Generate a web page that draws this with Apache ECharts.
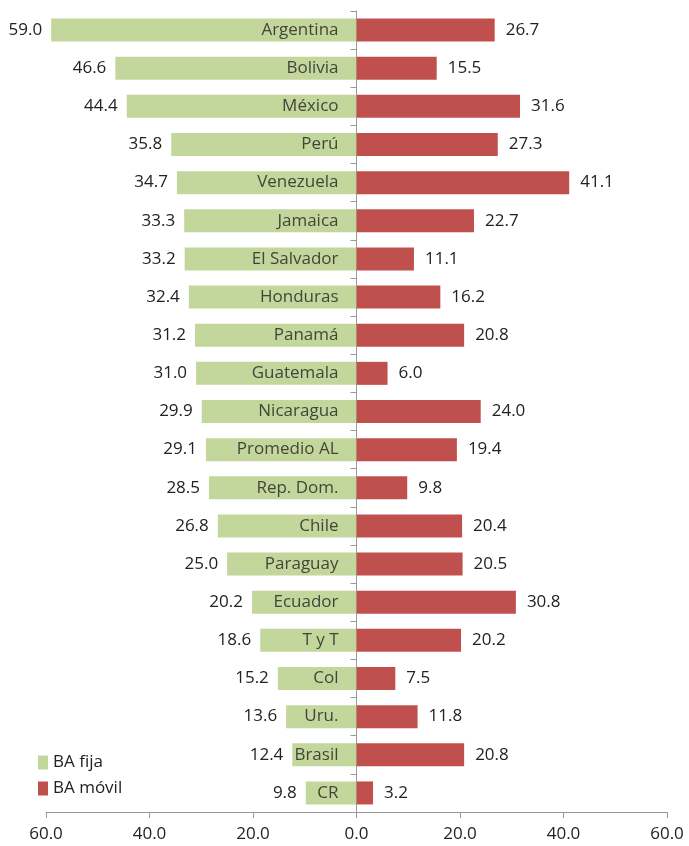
<!DOCTYPE html>
<html><head><meta charset="utf-8">
<script src="https://cdn.jsdelivr.net/npm/echarts@6/dist/echarts.min.js"></script>
<style>html,body{margin:0;padding:0;background:#fff}#c{width:689px;height:846px}</style>
</head><body><div id="c"></div>
<script>
const categories = ["Argentina","Bolivia","México","Perú","Venezuela","Jamaica","El Salvador","Honduras","Panamá","Guatemala","Nicaragua","Promedio AL","Rep. Dom.","Chile","Paraguay","Ecuador","T y T","Col","Uru.","Brasil","CR"];
const baFija = [59.0,46.6,44.4,35.8,34.7,33.3,33.2,32.4,31.2,31.0,29.9,29.1,28.5,26.8,25.0,20.2,18.6,15.2,13.6,12.4,9.8];
const baMovil = [26.7,15.5,31.6,27.3,41.1,22.7,11.1,16.2,20.8,6.0,24.0,19.4,9.8,20.4,20.5,30.8,20.2,7.5,11.8,20.8,3.2];
const seriesNames = ["BA fija","BA móvil"];
const FONT = "Open Sans";
const FS = 17;
const chart = echarts.init(document.getElementById('c'));
chart.setOption({
  animation:false,
  textStyle:{fontFamily:FONT},
  grid:{left:46,right:22,top:11,bottom:34,containLabel:false,outerBoundsMode:'none'},
  legend:{orient:'vertical',left:33,top:749,itemWidth:10,itemHeight:14,itemGap:9,icon:'rect',
    textStyle:{fontFamily:FONT,fontSize:FS,color:'#222'},data:seriesNames},
  xAxis:{type:'value',min:-60,max:60,interval:20,
    axisLine:{show:true,lineStyle:{color:'#999'}},
    axisTick:{show:true,length:6,lineStyle:{color:'#999'}},
    splitLine:{show:false},
    axisLabel:{margin:14,fontSize:FS,color:'#222',fontFamily:FONT,formatter:v=>Math.abs(v).toFixed(1)}},
  yAxis:{type:'category',data:categories,inverse:true,
    axisLine:{show:true,onZero:true,lineStyle:{color:'#999'}},
    axisTick:{show:true,length:6,lineStyle:{color:'#999'}},
    axisLabel:{show:false}},
  series:[
    {name:seriesNames[0],type:'bar',stack:'s',barWidth:23,
     data:baFija.map(v=>-v),itemStyle:{color:'#c3d69b'},
     label:{show:true,position:'left',distance:9,fontSize:FS,color:'#222',fontFamily:FONT,formatter:p=>Math.abs(p.value).toFixed(1)}},
    {name:seriesNames[1],type:'bar',stack:'s',barWidth:23,
     data:baMovil,itemStyle:{color:'#c0504d'},
     label:{show:true,position:'right',distance:11,fontSize:FS,color:'#222',fontFamily:FONT,formatter:p=>p.value.toFixed(1)}},
    {name:'cat',type:'scatter',symbolSize:0,silent:true,z:5,
     data:categories.map(c=>[0,c]),
     label:{show:true,position:'left',distance:18,fontSize:FS,color:'#222',fontFamily:FONT,formatter:p=>p.value[1]}}
  ]
});
</script></body></html>
